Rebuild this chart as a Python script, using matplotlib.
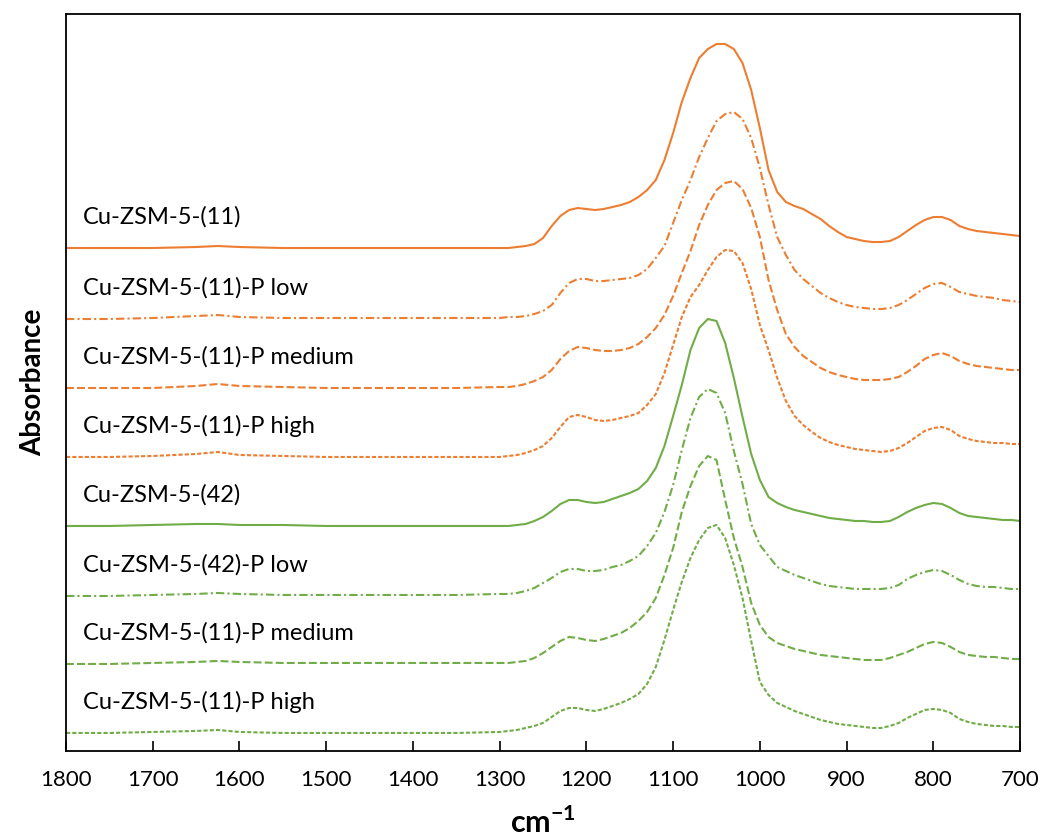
'''
FTIR spectra of Cu-ZSM-5 samples, stacked with offsets
'''

import matplotlib
matplotlib.use("Agg")
import matplotlib.pyplot as plt

plt.rcParams['font.family'] = ['Lato', 'DejaVu Sans']
plt.rcParams['mathtext.fontset'] = 'custom'
plt.rcParams['mathtext.bf'] = 'Lato:bold'
plt.rcParams['mathtext.rm'] = 'Lato'

# Wavenumber grid (cm-1): coarse over the flat region, 10 cm-1 steps below 1300
wavenumber = [1800, 1750, 1700, 1650, 1625, 1600, 1550, 1500, 1450, 1400, 1350, 1300] + \
    list(range(1290, 699, -10))

# Offset absorbance (a.u.), one list per sample, same order as wavenumber
cu11 = [503, 503, 503, 504, 505, 504, 503, 503, 503, 503, 503, 503,
        503, 504, 505, 507, 513, 525, 535, 541, 543, 542,
        541, 542, 544, 546, 549, 554, 561, 571, 591, 618,
        649, 673, 693, 702, 707, 707, 702, 688, 661, 623,
        581, 559, 549, 545, 542, 537, 532, 525, 519, 514,
        512, 510, 509, 509, 510, 514, 520, 526, 531, 534,
        534, 531, 525, 522, 520, 519, 518, 517, 516, 515]
cu11_p_low = [432, 432, 433, 435, 436, 434, 433, 433, 433, 433, 433, 433,
              434, 434, 435, 437, 440, 446, 458, 468, 472, 472,
              470, 470, 471, 472, 473, 476, 482, 493, 505, 528,
              551, 571, 594, 613, 630, 637, 639, 632, 613, 583,
              546, 514, 496, 481, 472, 465, 458, 453, 449, 446,
              444, 443, 442, 442, 443, 446, 451, 457, 463, 467,
              468, 464, 459, 457, 455, 454, 453, 451, 450, 449]
cu11_p_med = [363, 363, 363, 365, 367, 365, 364, 363, 363, 363, 363, 364,
              364, 365, 367, 370, 374, 381, 392, 400, 404, 403,
              401, 400, 400, 401, 403, 407, 414, 423, 436, 455,
              478, 500, 526, 546, 561, 568, 570, 562, 543, 514,
              471, 441, 417, 404, 395, 389, 383, 379, 376, 374,
              372, 371, 371, 371, 372, 374, 379, 385, 392, 396,
              398, 395, 390, 387, 385, 384, 383, 382, 381, 381]
cu11_p_high = [294, 294, 295, 297, 299, 296, 295, 294, 294, 294, 294, 294,
               295, 296, 298, 301, 305, 313, 324, 334, 336, 334,
               331, 330, 331, 333, 335, 338, 346, 357, 378, 406,
               434, 454, 466, 481, 494, 501, 500, 488, 462, 426,
               401, 373, 350, 335, 326, 319, 313, 309, 306, 304,
               302, 301, 300, 299, 300, 303, 308, 314, 320, 323,
               324, 321, 315, 312, 310, 309, 308, 308, 307, 307]
cu42 = [225, 225, 226, 227, 227, 226, 226, 225, 225, 225, 225, 225,
        225, 226, 227, 230, 234, 240, 247, 251, 251, 249,
        248, 249, 252, 255, 258, 262, 270, 283, 305, 335,
        366, 401, 423, 432, 430, 408, 373, 334, 297, 271,
        254, 248, 244, 241, 239, 237, 235, 233, 232, 231,
        230, 230, 229, 229, 230, 234, 239, 243, 246, 248,
        247, 243, 238, 235, 234, 233, 232, 231, 231, 230]
cu42_p_low = [155, 155, 156, 157, 158, 157, 156, 156, 156, 156, 156, 157,
              157, 158, 160, 163, 168, 173, 179, 182, 182, 180,
              180, 181, 184, 186, 190, 195, 205, 218, 239, 266,
              301, 333, 354, 362, 358, 338, 300, 267, 227, 206,
              195, 184, 180, 176, 173, 170, 167, 165, 164, 163,
              162, 162, 162, 162, 163, 166, 172, 176, 179, 181,
              180, 176, 171, 167, 165, 164, 164, 163, 162, 162]
cu42_p_med = [87, 87, 88, 89, 90, 89, 88, 88, 88, 88, 88, 88,
              88, 89, 90, 93, 98, 104, 110, 114, 113, 111,
              110, 112, 115, 118, 123, 130, 139, 153, 176, 203,
              239, 265, 285, 295, 291, 251, 213, 184, 148, 126,
              114, 108, 105, 102, 100, 98, 96, 95, 94, 93,
              92, 91, 91, 91, 93, 96, 99, 103, 107, 109,
              108, 104, 99, 96, 95, 94, 94, 93, 92, 92]
cu42_p_high = [18, 18, 19, 20, 21, 19, 18, 18, 18, 18, 18, 19,
               20, 21, 23, 25, 28, 34, 40, 43, 43, 41,
               40, 42, 45, 48, 52, 57, 67, 84, 111, 141,
               169, 193, 211, 223, 226, 213, 186, 153, 110, 69,
               56, 48, 44, 40, 37, 34, 31, 29, 27, 26,
               25, 24, 23, 23, 25, 28, 33, 37, 41, 42,
               41, 38, 32, 29, 27, 26, 25, 25, 24, 24]

labels = ['Cu-ZSM-5-(11)', 'Cu-ZSM-5-(11)-P low', 'Cu-ZSM-5-(11)-P medium',
          'Cu-ZSM-5-(11)-P high', 'Cu-ZSM-5-(42)', 'Cu-ZSM-5-(42)-P low',
          'Cu-ZSM-5-(11)-P medium', 'Cu-ZSM-5-(11)-P high']
spectra = [cu11, cu11_p_low, cu11_p_med, cu11_p_high,
           cu42, cu42_p_low, cu42_p_med, cu42_p_high]

ORANGE = '#ED7D31'
GREEN = '#70AD47'
colors = [ORANGE] * 4 + [GREEN] * 4
# solid, long dash-dot, dash, short dash (in units of line width)
dash_styles = [None, (4, 1.5, 1, 1.5), (3.8, 1.5), (2, 1)]
styles = dash_styles * 2

fig = plt.figure(figsize=(10.43, 8.4), dpi=100)
ax = fig.add_axes([0.0633, 0.106, 0.9147, 0.8773])

for y, lab, c, ds in zip(spectra, labels, colors, styles):
    line, = ax.plot(wavenumber, y, color=c, lw=1.5, solid_joinstyle='round')
    if ds is not None:
        line.set_dashes(ds)
    ax.text(1780, y[0] + 31, lab, fontsize=17, va='center', ha='left')

ax.set_xlim(1800, 700)
ax.set_ylim(0, 737)
ax.set_xticks(range(1800, 699, -100))
ax.set_yticks([])
ax.tick_params(axis='x', direction='in', length=7, width=1.2, labelsize=16, pad=14)
for s in ax.spines.values():
    s.set_linewidth(1.3)
    s.set_color('black')

ax.set_xlabel('cm$^{\\mathbf{-1}}$', fontsize=22, fontweight='bold', labelpad=12)
ax.set_ylabel('Absorbance', fontsize=20, fontweight='bold', labelpad=14)

fig.savefig('out.png', dpi=100)
